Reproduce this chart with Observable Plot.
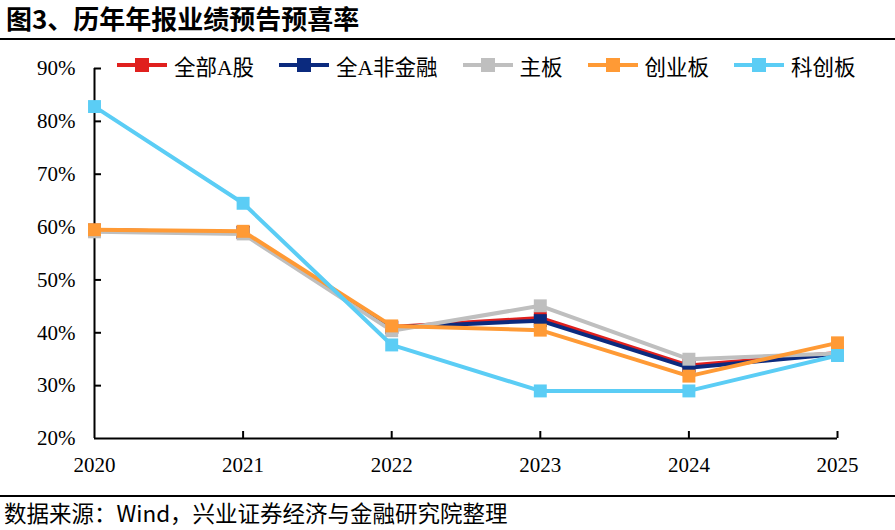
<!DOCTYPE html>
<html>
<head>
<meta charset="utf-8">
<script src="https://cdn.jsdelivr.net/npm/d3@7"></script>
<script src="https://cdn.jsdelivr.net/npm/@observablehq/plot@0.6"></script>
<style>
  body { margin: 0; background: #fff; }
  #wrap { position: relative; width: 895px; height: 530px; overflow: hidden; background: #fff; }
  #title { height: 38px; border-bottom: 2px solid #000; font: bold 26px "Noto Sans CJK SC", sans-serif; line-height: 36px; padding-left: 6px; box-sizing: content-box; }
  #caption { border-top: 2px solid #000; font: 22.5px "Noto Sans CJK SC", sans-serif; line-height: 30px; padding-left: 4px; }
  #legend { position: absolute; top: 51px; left: 117px; height: 28px; display: flex; align-items: center; font: 21.5px "Liberation Serif", "Noto Sans CJK SC", serif; }
  .item { display: flex; align-items: center; margin-right: 25px; }
  .mk { position: relative; width: 50px; height: 4px; margin-right: 7px; }
  .mk span { position: absolute; left: 18px; top: -5px; width: 14px; height: 14px; }
</style>
</head>
<body>
<div id="wrap">
  <div id="title">图3、历年年报业绩预告预喜率</div>
  <div id="chart"></div>
  <div id="caption">数据来源：Wind，兴业证券经济与金融研究院整理</div>
  <div id="legend"></div>
</div>
<script>
const years = [2020, 2021, 2022, 2023, 2024, 2025];
const yTicks = [0.2, 0.3, 0.4, 0.5, 0.6, 0.7, 0.8, 0.9];
const seriesNames = ["全部A股", "全A非金融", "主板", "创业板", "科创板"];
const seriesColors = ["#E0201E", "#0B2A7E", "#BFBFBF", "#FF9A35", "#5BCDF5"];
const allA      = [0.594, 0.590, 0.411, 0.428, 0.338, 0.362];
const allANonFin = [0.594, 0.590, 0.410, 0.423, 0.334, 0.360];
const mainBoard = [0.591, 0.587, 0.404, 0.451, 0.350, 0.361];
const gem       = [0.595, 0.592, 0.413, 0.405, 0.318, 0.381];
const star      = [0.828, 0.645, 0.377, 0.290, 0.290, 0.357];
const seriesValues = [allA, allANonFin, mainBoard, gem, star];

const W = 895, H = 455;
const mL = 94, mR = 58, mT = 28, mB = 57;
const plotW = W - mL - mR, plotH = H - mT - mB;

const marks = [];
seriesNames.forEach((name, i) => {
  const rows = years.map((yr, j) => ({series: name, year: yr, value: seriesValues[i][j]}));
  marks.push(Plot.line(rows, {x: "year", y: "value", stroke: seriesColors[i], strokeWidth: 4}));
  marks.push(Plot.dot(rows, {x: "year", y: "value", symbol: "square", r: 7.3, fill: seriesColors[i], stroke: "none"}));
});

const chart = Plot.plot({
  width: W, height: H,
  marginLeft: mL, marginRight: mR, marginTop: mT, marginBottom: mB,
  style: {fontFamily: '"Liberation Serif", serif', fontSize: "21px", color: "#000", background: "#fff", overflow: "visible"},
  x: {domain: [2020, 2025]},
  y: {domain: [0.2, 0.9]},
  marks: [
    Plot.axisY({ticks: yTicks, tickFormat: d => Math.round(d * 100) + "%", tickSize: 0, tickPadding: 19, label: null, fill: "#000"}),
    Plot.axisX({ticks: years, tickFormat: d => String(d), tickSize: 0, tickPadding: 19, label: null, fill: "#000"}),
    Plot.tickY(yTicks.slice(1), {y: d => d, insetRight: plotW - 7, stroke: "#000", strokeWidth: 2}),
    Plot.tickX(years.slice(1), {x: d => d, insetTop: plotH - 7, stroke: "#000", strokeWidth: 2}),
    Plot.ruleY([0.2], {stroke: "#000", strokeWidth: 2}),
    Plot.ruleX([2020], {stroke: "#000", strokeWidth: 2}),
    ...marks
  ]
});
document.getElementById("chart").appendChild(chart);

const legend = document.getElementById("legend");
seriesNames.forEach((name, i) => {
  const item = document.createElement("div");
  item.className = "item";
  item.innerHTML = `<div class="mk" style="background:${seriesColors[i]}"><span style="background:${seriesColors[i]}"></span></div><span>${name}</span>`;
  legend.appendChild(item);
});
</script>
</body>
</html>
